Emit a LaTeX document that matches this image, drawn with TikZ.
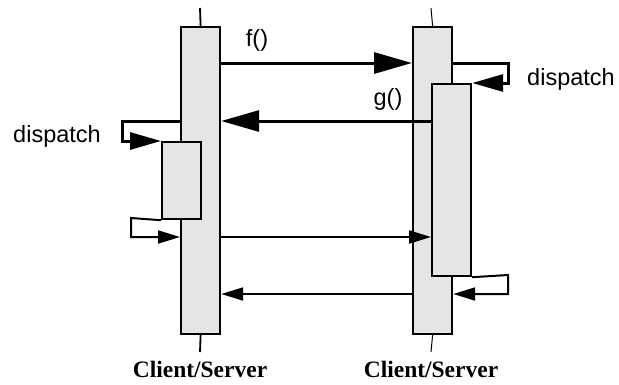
\documentclass[tikz,border=0pt]{standalone}
\usepackage{fontspec}
\setmainfont{Liberation Serif}
\newfontfamily\hsans{Liberation Sans}
\usetikzlibrary{arrows.meta}
\definecolor{barfill}{HTML}{E5E5E5}
\tikzset{
  bar/.style={draw=black, fill=barfill, line width=2.2pt, inner sep=0pt, anchor=north west, minimum width=39pt},
  lifeline/.style={line width=1.8pt},
  bigmsg/.style={line width=3pt, -{Triangle[length=38pt,width=21pt]}},
  dispmsg/.style={line width=3pt, -{Triangle[length=31pt,width=17pt]}},
  thinmsg/.style={line width=2pt, -{Triangle[length=22pt,width=13pt]}},
  lbl/.style={font=\hsans\fontsize{23.5}{28}\selectfont, anchor=base, inner sep=0pt},
  role/.style={font=\fontsize{23.5}{28}\selectfont\bfseries, anchor=base, inner sep=0pt}
}
\begin{document}
\begin{tikzpicture}[x=1pt,y=-1pt]
\useasboundingbox (0,0) rectangle (619,384);
% lifelines
\node[bar, minimum height=307pt] (L) at (180,26) {};
\node[bar, minimum height=307pt] (R) at (412,26) {};
\coordinate (Ltop) at (200,8);
\coordinate (Lbot) at (200,352);
\coordinate (Rtop) at (431,8);
\coordinate (Rbot) at (431,352);
\draw[lifeline] (Ltop) -- (L.north);
\draw[lifeline] (L.south) -- (Lbot);
\draw[line width=1pt] (Rtop) -- (R.north);
\draw[line width=1pt] (R.south) -- (Rbot);
% nested activations
\node[bar, minimum height=77pt] (Ln) at (161,141) {};
\node[bar, minimum height=192pt] (Rn) at (431,83) {};
% messages
\draw[bigmsg] (L.east |- 0,63) -- (R.west |- 0,63);
\draw[dispmsg] (R.east |- 0,63) -- (508,63) -- (508,83) -- (Rn.north east);
\draw[bigmsg] (Rn.west |- 0,121) -- (L.east |- 0,121);
\draw[dispmsg] (L.west |- 0,121) -- (122,121) |- (Ln.north west);
\draw[thinmsg] (Ln.south west) -- (131,218) |- (L.west |- 0,237);
\draw[thinmsg] (L.east |- 0,237) -- (Rn.west |- 0,237);
\draw[thinmsg] (Rn.south east) -- (508,275) |- (R.east |- 0,294);
\draw[thinmsg] (R.west |- 0,294) -- (L.east |- 0,294);
% labels
\node[lbl] (f) at (257,46) {f()};
\node[lbl] (g) at (388,105) {g()};
\node[lbl] (d1) at (57,142) {dispatch};
\node[lbl] (d2) at (571,85) {dispatch};
\node[role] (c1) at (200,377) {Client/Server};
\node[role] (c2) at (431,377) {Client/Server};
\end{tikzpicture}
\end{document}
